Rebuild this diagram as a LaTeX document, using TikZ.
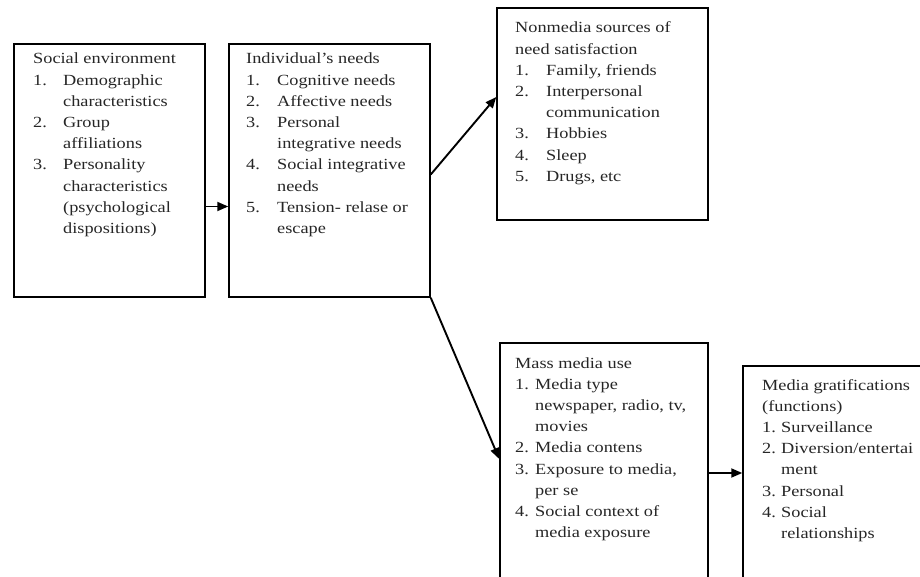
\documentclass[tikz,border=0pt]{standalone}
\usepackage{fontspec}
\setmainfont{Liberation Serif}[FakeStretch=1.18]
\usetikzlibrary{arrows.meta}
\newcommand{\itemlist}[2]{\begin{tabular}[t]{@{}p{#1}@{}l@{}}#2\end{tabular}}
\tikzset{
box/.style = { draw, line width = 1.5pt, inner sep = 0pt },
txt/.style = { anchor = base west, inner sep = 0pt, text = black!85, font = \fontsize{15.5}{21.2}\selectfont },
flow/.style = { line width = 1.9pt, -{Triangle[length=11pt,width=9pt]} }
}

\begin{document}
\begin{tikzpicture}[x=1pt,y=-1pt]
	\useasboundingbox (0,0) rectangle (920,577);
	\clip (0,0) rectangle (920,577);
	% the boxes
	\node[box, minimum width=191pt, minimum height=253pt] (soc) at (109.5,170.5) {};
	\node[box, minimum width=201pt, minimum height=253pt] (need) at (329.5,170.5) {};
	\node[box, minimum width=211pt, minimum height=212pt] (non) at (602.5,114) {};
	\node[box, minimum width=208pt, minimum height=260pt] (mass) at (604,473) {};
	\node[box, minimum width=200pt, minimum height=214pt] (grat) at (843,473) {};
	% their texts
	\node[txt] (soctxt) at (33,64) {\itemlist{30pt}{%
		\multicolumn{2}{@{}l@{}}{Social environment}\\
		1. & Demographic\\ & characteristics\\
		2. & Group\\ & affiliations\\
		3. & Personality\\ & characteristics\\ & (psychological\\ & dispositions)}};
	\node[txt] (needtxt) at (246,64) {\itemlist{31pt}{%
		\multicolumn{2}{@{}l@{}}{Individual’s needs}\\
		1. & Cognitive needs\\
		2. & Affective needs\\
		3. & Personal\\ & integrative needs\\
		4. & Social integrative\\ & needs\\
		5. & Tension- relase or\\ & escape}};
	\node[txt] (nontxt) at (515,33) {\itemlist{31pt}{%
		\multicolumn{2}{@{}l@{}}{Nonmedia sources of}\\
		\multicolumn{2}{@{}l@{}}{need satisfaction}\\
		1. & Family, friends\\
		2. & Interpersonal\\ & communication\\
		3. & Hobbies\\
		4. & Sleep\\
		5. & Drugs, etc}};
	\node[txt] (masstxt) at (515,368) {\itemlist{20pt}{%
		\multicolumn{2}{@{}l@{}}{Mass media use}\\
		1. & Media type\\ & newspaper, radio, tv,\\ & movies\\
		2. & Media contens\\
		3. & Exposure to media,\\ & per se\\
		4. & Social context of\\ & media exposure}};
	\node[txt] (grattxt) at (762,390) {\itemlist{19pt}{%
		\multicolumn{2}{@{}l@{}}{Media gratifications}\\
		\multicolumn{2}{@{}l@{}}{(functions)}\\
		1. & Surveillance\\
		2. & Diversion/entertai\\ & ment\\
		3. & Personal\\
		4. & Social\\ & relationships}};
	% arrows
	\draw[flow] ([yshift=-36pt]soc.east) -- ([yshift=-36pt]need.west);
	\draw[flow] ([yshift=-4pt]need.east) -- ([yshift=17pt]non.west);
	\draw[flow] (need.south east) -- ([yshift=14pt]mass.west);
	\draw[flow] (mass.east) -- (grat.west);
\end{tikzpicture}
\end{document}
